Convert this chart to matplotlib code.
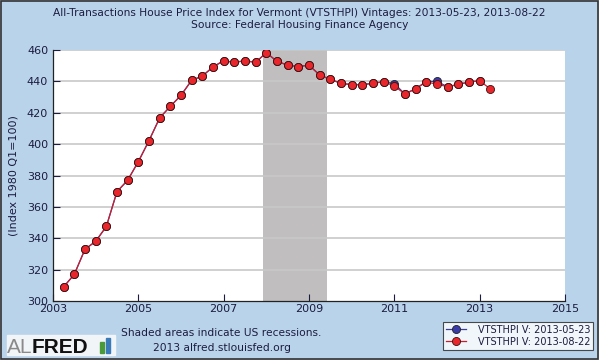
import numpy as np
import matplotlib
matplotlib.use('Agg')
import matplotlib.pyplot as plt

# Trimestres (inicio de trimestre, en años decimales)
fechas = np.arange(2003.25, 2013.26, 0.25)

# Vintage 2013-08-22 (serie completa hasta 2013Q2)
v_0822 = [309, 317, 333, 338, 347.5, 369.7, 377, 388.8, 402.2, 416.7,
          424.1, 431.1, 440.7, 443.4, 449.2, 453.2, 452.1, 453.2, 452.1, 458.3,
          452.8, 450.4, 449.4, 450.4, 444.1, 441.3, 438.8, 437.9, 437.9, 438.8,
          439.8, 437.1, 432.0, 435.3, 439.6, 438.3, 436.6, 438.1, 439.6, 440.4,
          435.3]
# Vintage 2013-05-23 (termina en 2013Q1)
v_0523 = [309, 317, 333, 338, 347.5, 369.7, 377, 388.8, 402.2, 416.7,
          424.1, 431.1, 440.7, 443.4, 449.2, 453.2, 452.1, 453.2, 452.1, 458.3,
          452.8, 450.4, 449.4, 450.4, 444.1, 441.3, 438.8, 437.9, 437.9, 438.8,
          439.8, 438.6, 432.0, 435.3, 439.9, 440.0, 436.6, 438.1, 439.6, 440.4]

# Recesión
rec_ini, rec_fin = 2007.92, 2009.42

fondo = '#b9d3ea'
texto = '#1c1c40'

fig = plt.figure(figsize=(5.99, 3.6), dpi=100, facecolor=fondo)
ax = fig.add_axes([0.0885, 0.164, 0.8545, 0.697])
ax.set_facecolor('white')

ax.axvspan(rec_ini, rec_fin, color='#c0bebe', lw=0, zorder=0)
for y in range(320, 461, 20):
    ax.axhline(y, color='#c8c8c8', lw=1.2, zorder=0.5)

x1 = fechas[:len(v_0523)]
ax.plot(x1, v_0523, '-o', color='#3c3c9a', lw=0.9, ms=5.8,
        mfc='#3a3aa8', mec='#222222', mew=0.6, zorder=2,
        label='VTSTHPI V: 2013-05-23')
ax.plot(fechas, v_0822, '-o', color='#c81e30', lw=0.9, ms=5.8,
        mfc='#e8262b', mec='#3a1010', mew=0.6, zorder=3,
        label='VTSTHPI V: 2013-08-22')

ax.set_xlim(2003, 2015)
ax.set_ylim(300, 460)
ax.set_xticks(range(2003, 2016, 2))
ax.set_yticks(range(300, 461, 20))
ax.tick_params(direction='in', length=5, labelsize=8, colors=texto, width=0.8)
ax.tick_params(axis='x', pad=2)
for s in ['top', 'right']:
    ax.spines[s].set_visible(False)
for s in ['left', 'bottom']:
    ax.spines[s].set_color('#222222')
    ax.spines[s].set_linewidth(0.9)
ax.set_ylabel('(Index 1980 Q1=100)', fontsize=8, color=texto, labelpad=6)

fig.text(0.5, 0.964, 'All-Transactions House Price Index for Vermont (VTSTHPI) Vintages: 2013-05-23, 2013-08-22',
         ha='center', va='center', fontsize=7.7, color=texto)
fig.text(0.5, 0.931, 'Source: Federal Housing Finance Agency',
         ha='center', va='center', fontsize=7.7, color=texto)

fig.text(0.37, 0.075, 'Shaded areas indicate US recessions.',
         ha='center', va='center', fontsize=7.7, color=texto)
fig.text(0.37, 0.034, '2013 alfred.stlouisfed.org',
         ha='center', va='center', fontsize=7.7, color=texto)

# Logo
fig.patches.append(plt.Rectangle((0.0117, 0.014), 0.18, 0.056, color='#f2f5f8',
                                 transform=fig.transFigure, figure=fig))
fig.text(0.012, 0.0194, 'AL', ha='left', va='baseline', fontsize=15,
         color='#8a8a8a', family='Liberation Sans')
fig.text(0.053, 0.0194, 'FRED', ha='left', va='baseline', fontsize=15,
         color='#111111', fontweight='bold', family='Liberation Sans')
fig.patches.append(plt.Rectangle((0.167, 0.0194), 0.006, 0.03, color='#4a9a3a',
                                 transform=fig.transFigure, figure=fig))
fig.patches.append(plt.Rectangle((0.177, 0.0194), 0.006, 0.042, color='#3a7ab8',
                                 transform=fig.transFigure, figure=fig))

leg = fig.legend(loc='lower right', bbox_to_anchor=(0.998, 0.015), fontsize=7,
                 frameon=True, fancybox=False, edgecolor='#222222',
                 handlelength=2.0, borderpad=0.3, labelspacing=0.2,
                 handletextpad=1.2, markerscale=1.0)
leg.get_frame().set_linewidth(0.8)
for t in leg.get_texts():
    t.set_color(texto)

# Marco exterior
fig.patches.append(plt.Rectangle((0.001, 0.002), 0.997, 0.996, fill=False,
                                 edgecolor='#333333', lw=1.2,
                                 transform=fig.transFigure, figure=fig))

fig.savefig('out.png', dpi=100, facecolor=fondo)
